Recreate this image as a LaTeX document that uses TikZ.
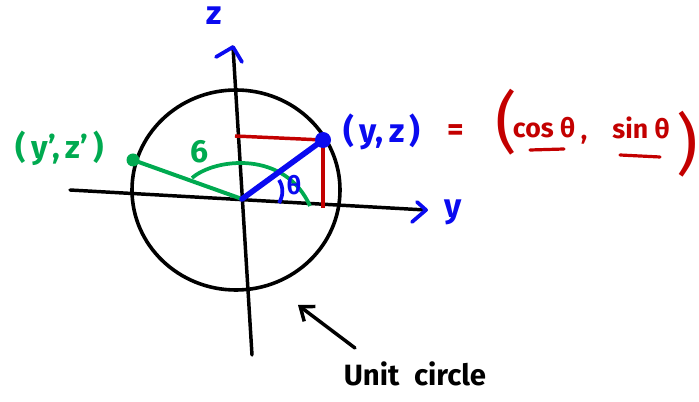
\documentclass[tikz,border=0pt]{standalone}
\usepackage{fontspec}
\setmainfont{Fira Sans}
\usetikzlibrary{arrows.meta}
\definecolor{penblue}{RGB}{10,10,240}
\definecolor{pengreen}{RGB}{0,170,80}
\definecolor{penred}{RGB}{195,0,0}
\tikzset{
  axis/.style={line width=2.6pt,black,line cap=round},
  barb/.style={line width=2.8pt,penblue,line cap=round,line join=round},
  bluelbl/.style={text=penblue,font=\fontsize{25}{28}\selectfont\bfseries},
  greenlbl/.style={text=pengreen,font=\fontsize{24}{27}\selectfont\bfseries},
  redlbl/.style={text=penred,font=\fontsize{20}{23}\selectfont\bfseries},
  blacklbl/.style={text=black,font=\fontsize{22}{24}\selectfont\bfseries},
}
\begin{document}
\begin{tikzpicture}[x=0.75pt,y=-0.75pt]
\useasboundingbox (0,0) rectangle (699,402);
% coordinates
\coordinate (O) at (242,199);
\coordinate (C) at (236,190);
\coordinate (yL) at (70,190);
\coordinate (yR) at (426,210);
\coordinate (zB) at (252,355);
\coordinate (zT) at (233,47);
\coordinate (P) at (323,140);
\coordinate (Q) at (133,160);
\coordinate (Rh) at (235,136);
\coordinate (Rv) at (323,208);
% circle
\draw[line width=2.7pt] (C) ellipse [x radius=104, y radius=100];
% axes
\draw[axis] (yL) -- (yR);
\draw[axis] (zB) -- (zT);
\draw[barb] (417,202) -- (yR) -- (412,222);
\draw[barb] (216,57) -- (zT) -- (242,62);
\node[bluelbl] (zlab) at (214,16) {z};
\node[bluelbl] (ylab) at (453,212) {y};
% red projections
\draw[penred,line width=2.6pt] (Rh) -- (P);
\draw[penred,line width=2.6pt] (P) -- (Rv);
% green
\draw[pengreen,line width=3pt] (O) -- (Q);
\fill[pengreen] (Q) circle (6.5);
\draw[pengreen,line width=2.8pt] (192,178) .. controls (215,158) and (285,150) .. (310,206);
\node[greenlbl] (phi) at (200,152) {6};
\node[greenlbl] (qlab) at (60,148) {(\,y',\,z'\,)};
% blue
\draw[penblue,line width=4.2pt,line cap=round] (O) -- (P);
\fill[penblue] (P) circle (8);
\draw[penblue,line width=2.8pt] (279,180) .. controls (284,188) and (283,196) .. (279,203);
\node[bluelbl,font=\fontsize{19}{20}\selectfont\bfseries] (th) at (294,185) {θ};
\node[bluelbl] (plab) at (382,132) {(\,y,\,z\,)};
% red formula
\node[redlbl,font=\fontsize{24}{26}\selectfont\bfseries] (eq) at (456,133) {=};
\node[redlbl,font=\fontsize{50}{54}\selectfont] (lp) at (506,122) {(};
\node[redlbl] (cos) at (544,128) {cos θ};
\node[redlbl] (comma) at (584,140) {,};
\node[redlbl] (sin) at (641,128) {sin θ};
\node[redlbl,font=\fontsize{50}{54}\selectfont] (rp) at (687,144) {)};
\draw[penred,line width=2.4pt,line cap=round] (530,150) -- (564,149);
\draw[penred,line width=2.4pt,line cap=round] (620,155) -- (660,157);
% unit circle label
\node[blacklbl] (uc) at (415,374) {Unit\enspace circle};
\coordinate (arrS) at (355,348);
\coordinate (arrE) at (298,305);
\draw[axis,-{Straight Barb[length=9pt,width=14pt]}] (arrS) -- (arrE);
\end{tikzpicture}
\end{document}
